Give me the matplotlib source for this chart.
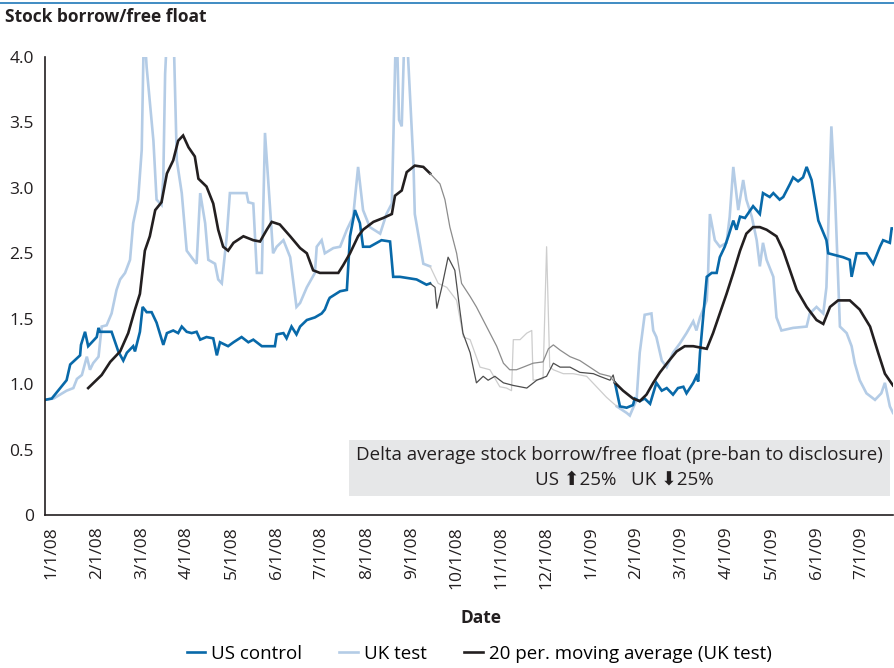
import numpy as np
import matplotlib.pyplot as plt
from matplotlib.patches import Rectangle
from matplotlib.lines import Line2D

plt.rcParams['font.family'] = ['Open Sans', 'DejaVu Sans']

# x values are months since 1/1/08 (the chart spaces months evenly)
month_labels = ["1/1/08", "2/1/08", "3/1/08", "4/1/08", "5/1/08", "6/1/08",
                "7/1/08", "8/1/08", "9/1/08", "10/1/08", "11/1/08", "12/1/08",
                "1/1/09", "2/1/09", "3/1/09", "4/1/09", "5/1/09", "6/1/09",
                "7/1/09"]
# gridline values as drawn, and the labels the chart prints on them
ytick_values = [0, 0.5, 1.0, 1.5, 2.0, 2.5, 3.0, 3.5]
ytick_labels = ["0", "0.5", "1.0", "1.5", "2.5", "3.0", "3.5", "4.0"]

# ban period: drawn in thin grey
ban_start = 8.41
ban_end = 12.52

us_t = [-0.15, 0.00, 0.33, 0.41, 0.63, 0.65, 0.74, 0.81, 1.00, 1.04, 1.07, 1.33, 1.48, 1.59,
        1.67, 1.81, 1.85, 1.96, 2.02, 2.11, 2.22, 2.33, 2.48, 2.56, 2.70, 2.81, 2.89, 3.00,
        3.11, 3.22, 3.30, 3.44, 3.59, 3.67, 3.74, 3.92, 4.04, 4.22, 4.37, 4.48, 4.67, 4.96,
        5.00, 5.15, 5.22, 5.33, 5.44, 5.52, 5.67, 5.85, 6.00, 6.07, 6.15, 6.18, 6.41, 6.56,
        6.63, 6.74, 6.85, 6.92, 7.07, 7.33, 7.52, 7.59, 7.74, 8.11, 8.33, 8.41,
        8.52, 8.56, 8.67, 8.81, 8.96, 9.07, 9.14, 9.30, 9.44, 9.59, 9.70, 9.85, 10.04,
        10.26, 10.56, 10.78, 11.00, 11.15, 11.30, 11.52, 11.74, 12.04, 12.18, 12.41, 12.48,
        12.52, 12.63, 12.78, 12.92, 12.96, 13.07, 13.18, 13.30, 13.44, 13.56, 13.67, 13.81,
        13.92, 14.04, 14.11, 14.26, 14.33, 14.37, 14.41, 14.48, 14.56, 14.67, 14.78, 14.85,
        14.96, 15.04, 15.15, 15.22, 15.30, 15.41, 15.59, 15.74, 15.81, 15.96, 16.04, 16.18,
        16.26, 16.41, 16.48, 16.59, 16.70, 16.78, 16.89, 17.04, 17.22, 17.26, 17.37, 17.59,
        17.74, 17.78, 17.89, 18.11, 18.26, 18.41, 18.48, 18.63, 18.67, 18.70]
us_v = [0.88, 0.89, 1.03, 1.15, 1.22, 1.30, 1.40, 1.29, 1.36, 1.43, 1.40, 1.40, 1.25, 1.18,
        1.24, 1.29, 1.25, 1.40, 1.59, 1.55, 1.55, 1.47, 1.30, 1.39, 1.41, 1.39, 1.44, 1.40,
        1.39, 1.40, 1.34, 1.36, 1.35, 1.22, 1.32, 1.29, 1.32, 1.36, 1.32, 1.34, 1.29, 1.29,
        1.38, 1.39, 1.35, 1.44, 1.38, 1.44, 1.49, 1.51, 1.54, 1.57, 1.64, 1.66, 1.71, 1.72,
        2.13, 2.33, 2.23, 2.05, 2.05, 2.10, 2.09, 1.82, 1.82, 1.80, 1.76, 1.77,
        1.74, 1.58, 1.74, 1.97, 1.87, 1.57, 1.39, 1.24, 1.01, 1.06, 1.03, 1.06, 1.01,
        0.99, 0.97, 1.03, 1.06, 1.16, 1.13, 1.13, 1.09, 1.08, 1.06, 1.03, 1.07,
        1.01, 0.83, 0.82, 0.84, 0.89, 0.87, 0.89, 0.85, 1.01, 0.95, 0.97, 0.92,
        0.97, 0.98, 0.93, 1.01, 1.06, 1.02, 1.24, 1.51, 1.82, 1.85, 1.85, 1.97,
        2.05, 2.13, 2.25, 2.18, 2.28, 2.27, 2.36, 2.30, 2.46, 2.43, 2.46, 2.41,
        2.43, 2.53, 2.58, 2.55, 2.58, 2.66, 2.56, 2.25, 2.10, 2.00, 1.99, 1.97,
        1.95, 1.82, 2.00, 2.00, 1.92, 2.05, 2.10, 2.08, 2.19, 2.19]

uk_t = [-0.15, 0.04, 0.33, 0.48, 0.56, 0.67, 0.78, 0.85, 0.92, 1.04, 1.11, 1.22, 1.33, 1.44,
        1.52, 1.63, 1.74, 1.81, 1.92, 2.00, 2.05, 2.11, 2.26, 2.33, 2.44, 2.48, 2.52, 2.58,
        2.70, 2.78, 2.89, 3.00, 3.15, 3.22, 3.30, 3.41, 3.48, 3.63, 3.70, 3.78, 3.89, 3.96,
        4.15, 4.33, 4.37, 4.48, 4.56, 4.67, 4.74, 4.85, 4.92, 5.00, 5.15, 5.30, 5.44, 5.52,
        5.67, 5.85, 5.89, 6.00, 6.07, 6.26, 6.41, 6.56, 6.70, 6.81, 6.92, 7.07, 7.30, 7.44,
        7.56, 7.66, 7.72, 7.78, 7.85, 7.92, 8.04, 8.07, 8.26, 8.41,
        8.59, 8.78, 9.00, 9.15, 9.30, 9.52, 9.74, 9.96, 10.11, 10.22, 10.26, 10.41, 10.56,
        10.67, 10.70, 10.92, 11.00, 11.07, 11.15, 11.37, 11.59, 11.89, 12.11, 12.33,
        12.56, 12.78, 12.85, 13.00, 13.07, 13.18, 13.33, 13.37, 13.44, 13.56, 13.67, 13.81,
        13.96, 14.11, 14.26, 14.33, 14.41, 14.56, 14.59, 14.63, 14.74, 14.85, 15.00, 15.07,
        15.15, 15.26, 15.37, 15.44, 15.56, 15.67, 15.74, 15.81, 15.89, 16.04, 16.11, 16.22,
        16.48, 16.78, 16.85, 17.00, 17.15, 17.22, 17.33, 17.41, 17.52, 17.67, 17.78, 17.85,
        17.96, 18.11, 18.30, 18.44, 18.52, 18.63, 18.70]
uk_v = [0.88, 0.89, 0.95, 0.97, 1.04, 1.07, 1.21, 1.11, 1.16, 1.21, 1.44, 1.45, 1.54, 1.72,
        1.80, 1.85, 1.95, 2.23, 2.41, 2.79, 3.75, 3.42, 2.86, 2.41, 2.37, 2.58, 3.37, 3.80,
        3.80, 2.71, 2.46, 2.02, 1.95, 1.92, 2.46, 2.23, 1.95, 1.92, 1.80, 1.77, 2.13, 2.46,
        2.46, 2.46, 2.39, 2.38, 1.85, 1.85, 2.92, 2.36, 2.00, 2.05, 2.10, 1.97, 1.59, 1.62,
        1.74, 1.85, 2.05, 2.10, 2.00, 2.04, 2.05, 2.18, 2.28, 2.66, 2.33, 2.20, 2.15, 2.30,
        2.38, 3.85, 3.02, 2.97, 3.80, 3.50, 2.69, 2.30, 1.92, 1.90,
        1.77, 1.74, 1.64, 1.36, 1.34, 1.13, 1.11, 0.98, 0.97, 0.95, 1.34, 1.34, 1.39,
        1.41, 1.03, 1.04, 2.05, 1.13, 1.11, 1.08, 1.08, 1.06, 0.98, 0.90,
        0.83, 0.78, 0.76, 0.88, 1.24, 1.53, 1.54, 1.41, 1.36, 1.18, 1.13, 1.24,
        1.31, 1.39, 1.48, 1.41, 1.51, 1.64, 1.85, 2.30, 2.10, 2.05, 2.08, 2.28,
        2.66, 2.33, 2.56, 2.41, 2.28, 2.10, 1.90, 2.08, 1.95, 1.82, 1.51, 1.41,
        1.43, 1.44, 1.54, 1.59, 1.54, 1.74, 2.97, 2.46, 1.44, 1.39, 1.29, 1.16,
        1.03, 0.93, 0.88, 0.93, 1.01, 0.83, 0.78]

ma_t = [0.81, 0.96, 1.11, 1.30, 1.52, 1.70, 1.85, 1.96, 2.07, 2.18, 2.30, 2.44, 2.56, 2.70,
        2.81, 2.92, 3.04, 3.18, 3.26, 3.44, 3.59, 3.70, 3.81, 3.92, 4.04, 4.26, 4.48, 4.63,
        4.78, 4.89, 5.07, 5.30, 5.52, 5.67, 5.81, 5.96, 6.37, 6.48, 6.63, 6.81, 6.92, 7.15,
        7.37, 7.56, 7.63, 7.78, 7.89, 8.07, 8.26, 8.41,
        8.63, 8.74, 8.85, 9.00, 9.11, 9.30, 9.44, 9.56, 9.74, 9.89, 10.04, 10.18, 10.33,
        10.48, 10.70, 10.92, 11.04, 11.15, 11.30, 11.52, 11.74, 11.96, 12.18, 12.41, 12.52,
        12.70, 12.92, 13.07, 13.22, 13.37, 13.52, 13.70, 13.89, 14.07, 14.26, 14.56, 14.70,
        14.85, 15.00, 15.15, 15.30, 15.44, 15.59, 15.74, 15.89, 16.11, 16.26, 16.41, 16.56,
        16.78, 17.00, 17.15, 17.30, 17.48, 17.74, 17.96, 18.19, 18.37, 18.52, 18.70]
ma_v = [0.97, 1.02, 1.07, 1.17, 1.25, 1.39, 1.57, 1.69, 2.02, 2.13, 2.33, 2.39, 2.61, 2.71,
        2.86, 2.90, 2.81, 2.74, 2.57, 2.51, 2.38, 2.18, 2.05, 2.02, 2.08, 2.13, 2.10, 2.09,
        2.18, 2.24, 2.22, 2.13, 2.04, 2.00, 1.87, 1.85, 1.85, 1.91, 2.00, 2.13, 2.18, 2.24,
        2.27, 2.30, 2.44, 2.48, 2.62, 2.67, 2.66, 2.61,
        2.53, 2.41, 2.20, 2.00, 1.77, 1.67, 1.59, 1.51, 1.39, 1.29, 1.16, 1.11, 1.11,
        1.13, 1.16, 1.17, 1.27, 1.30, 1.26, 1.21, 1.18, 1.13, 1.08, 1.06, 1.01,
        0.95, 0.89, 0.87, 0.92, 1.01, 1.09, 1.17, 1.25, 1.29, 1.29, 1.27, 1.39,
        1.54, 1.69, 1.85, 2.02, 2.15, 2.20, 2.20, 2.18, 2.13, 2.02, 1.87, 1.72,
        1.59, 1.49, 1.46, 1.59, 1.64, 1.64, 1.57, 1.44, 1.24, 1.08, 0.99]


def split(t, v):
    t = np.array(t)
    v = np.array(v)
    i0 = np.where(t <= ban_start)[0][-1]
    i1 = np.where(t >= ban_end)[0][0]
    before = (t[:i0 + 1], v[:i0 + 1])
    during = (t[i0:i1 + 1], v[i0:i1 + 1])
    after = (t[i1:], v[i1:])
    return before, during, after


fig = plt.figure(figsize=(8.94, 6.68), dpi=100)
ax = fig.add_axes([45 / 894, 1 - 515 / 668, 848 / 894, 458 / 668])

series = [(uk_t, uk_v, "#b4cce6", "#cdcdcd", "UK test"),
          (us_t, us_v, "#0869a9", "#4d4d4d", "US control"),
          (ma_t, ma_v, "#231f20", "#8c8c8c", "20 per. moving average (UK test)")]
handles = {}
for t, v, c, gc, name in series:
    b, d, a = split(t, v)
    h, = ax.plot(b[0], b[1], color=c, lw=1.9, solid_joinstyle="miter")
    ax.plot(a[0], a[1], color=c, lw=1.9, solid_joinstyle="miter")
    ax.plot(d[0], d[1], color=gc, lw=0.9)
    handles[name] = h

ax.set_xlim(-0.15, 18.70)
ax.set_ylim(0, 3.5)
ax.set_xticks(range(len(month_labels)))
ax.set_xticklabels(month_labels, rotation=90, fontsize=12.5)
ax.set_yticks(ytick_values)
ax.set_yticklabels(ytick_labels, fontsize=12.5)
ax.tick_params(length=0, pad=8, colors="#231f20")
for s in ["top", "right"]:
    ax.spines[s].set_visible(False)
for s in ["left", "bottom"]:
    ax.spines[s].set_color("#231f20")
    ax.spines[s].set_linewidth(1.2)

# note box
ax.add_patch(Rectangle((0.358, 0.0415), 0.6385, 0.1225, transform=ax.transAxes,
                       facecolor="#e6e7e8", edgecolor="none", zorder=5))
ax.text(0.677, 0.130, "Delta average stock borrow/free float (pre-ban to disclosure)",
        transform=ax.transAxes, ha="center", va="center", fontsize=13.5,
        color="#231f20", zorder=6)
ax.text(0.683, 0.078, "US \u2B0625%   UK \u2B0725%",
        transform=ax.transAxes, ha="center", va="center", fontsize=13.5,
        color="#231f20", zorder=6)

# header
fig.add_artist(Line2D([0, 1], [1 - 2.5 / 668, 1 - 2.5 / 668], color="#1f78b9", lw=1.2))
fig.text(5 / 894, 1 - 17 / 668, "Stock borrow/free float", fontsize=12.5,
         fontweight="bold", ha="left", va="center", color="#231f20")

fig.text(481 / 894, 1 - 618 / 668, "Date", fontsize=12.5, fontweight="bold",
         ha="center", va="center", color="#231f20")

names = ["US control", "UK test", "20 per. moving average (UK test)"]
fig.legend([handles[n] for n in names], names, loc="center",
           bbox_to_anchor=(479 / 894, 1 - 654 / 668), ncol=3, frameon=False,
           fontsize=13.5, handlelength=1.0, handletextpad=0.3, columnspacing=2.0)

fig.savefig("out.png", dpi=100)
